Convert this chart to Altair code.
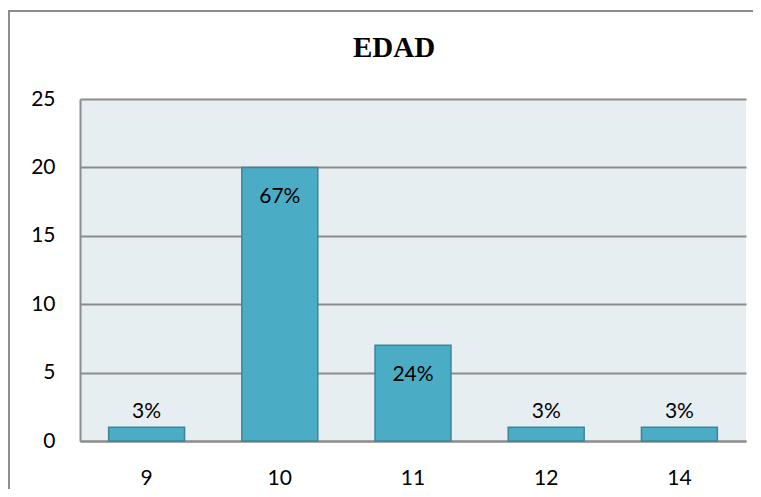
import altair as alt
import pandas as pd

edades = ["9", "10", "11", "12", "14"]
cantidad = [1, 20, 7, 1, 1]
porcentaje = ["3%", "67%", "24%", "3%", "3%"]

df = pd.DataFrame({"edad": edades, "n": cantidad, "pct": porcentaje})

FONT = "Lato"

x = alt.X("edad:N", sort=edades, title=None,
          scale=alt.Scale(paddingInner=0.43, paddingOuter=0.215),
          axis=alt.Axis(labelAngle=0, labelFont=FONT, labelFontSize=21, labelColor="#000",
                        labelPadding=26, ticks=False, domainColor="#8c8c8c", domainWidth=2,
                        grid=False))
y = alt.Y("n:Q", title=None,
          scale=alt.Scale(domain=[0, 25], nice=False),
          axis=alt.Axis(values=[0, 5, 10, 15, 20, 25], labelFont=FONT, labelFontSize=21,
                        labelColor="#000", labelPadding=25, ticks=False,
                        domainColor="#8c8c8c", domainWidth=2,
                        gridColor="#8c8c8c", gridWidth=2))

border = alt.Chart(df).mark_rect(fill="white", fillOpacity=0, stroke="#8c8c8c",
                                 strokeWidth=2, clip=False).encode(
    x=alt.value(-71), x2=alt.value(700), y=alt.value(-88), y2=alt.value(420))

bars = alt.Chart(df).mark_bar(color="#4BACC6", stroke="#3B8597", strokeWidth=1.5).encode(x=x, y=y)

inside = alt.Chart(df).transform_filter("datum.n > 5").mark_text(
    font=FONT, fontSize=21, color="#000", baseline="middle", dy=30).encode(
    x=alt.X("edad:N", sort=edades), y="n:Q", text="pct:N")
outside = alt.Chart(df).transform_filter("datum.n <= 5").mark_text(
    font=FONT, fontSize=21, color="#000", baseline="middle", dy=-15).encode(
    x=alt.X("edad:N", sort=edades), y="n:Q", text="pct:N")

chart = alt.layer(border, bars, inside, outside).properties(
    width=666, height=342,
    background="white",
    title=alt.TitleParams("EDAD", font="Liberation Serif", fontSize=29, fontWeight="bold",
                          color="#000", anchor="middle", dx=-19, offset=-76,
                          baseline="alphabetic"),
    autosize=alt.AutoSizeParams(type="none"),
    padding={"left": 72, "top": 91, "right": 7, "bottom": 48},
).configure_view(fill="#E7EEF2", stroke=None)

chart.save("out.html", embed_options={"renderer": "svg", "actions": False})
